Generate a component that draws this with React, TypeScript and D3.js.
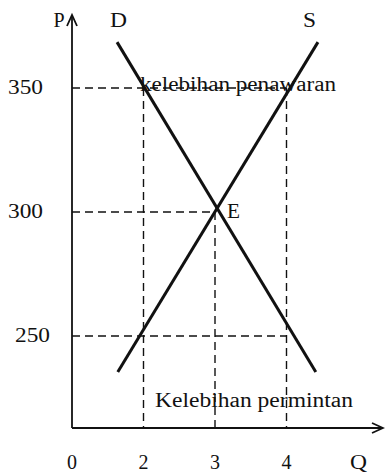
import React from "react";
import * as d3 from "d3";

const W = 385;
const H = 473;

const xTickLabels = ["0", "2", "3", "4", "Q"];
const priceTicks = [350, 300, 250];
const demandPoints = [
  { q: 1.63, p: 368.5 },
  { q: 4.41, p: 235.5 },
];
const supplyPoints = [
  { q: 1.64, p: 235.5 },
  { q: 4.44, p: 368.5 },
];
const equilibrium = { q: 3, p: 300 };
const guideH = [
  { p: 350, q: 4 },
  { p: 300, q: 3 },
  { p: 250, q: 4 },
];
const guideV = [
  { q: 2, p: 350 },
  { q: 3, p: 300 },
  { q: 4, p: 350 },
];
const surplusLabel = "kelebihan penawaran";
const shortageLabel = "Kelebihan permintan";

export default function App() {
  const xLabel = d3.scalePoint<string>().domain(xTickLabels).range([72, 358]);
  const x = d3
    .scaleLinear()
    .domain([2, 4])
    .range([xLabel("2") as number, xLabel("4") as number]);
  const y = d3.scaleLinear().domain([250, 350]).range([336, 88]);
  const x0 = xLabel("0") as number;
  const yAxisBottom = 428;
  const xAxisEnd = 383;
  const yAxisTop = 15;

  const line = d3
    .line<{ q: number; p: number }>()
    .x((d) => x(d.q))
    .y((d) => y(d.p));

  const font = "'Liberation Serif', 'Times New Roman', serif";
  const dash = "8,5";

  return (
    <div style={{ position: "fixed", left: 0, top: 0 }}>
      <svg width={W} height={H} style={{ display: "block", background: "#fff" }}>
        <g stroke="#111" strokeWidth={1.4} strokeDasharray={dash} fill="none">
          {guideH.map((g, i) => (
            <line key={"h" + i} x1={x0} x2={x(g.q)} y1={y(g.p)} y2={y(g.p)} />
          ))}
          {guideV.map((g, i) => (
            <line key={"v" + i} x1={x(g.q)} x2={x(g.q)} y1={y(g.p)} y2={yAxisBottom} />
          ))}
        </g>
        <g stroke="#111" strokeWidth={1.8} fill="none">
          <line x1={x0} x2={x0} y1={yAxisTop} y2={yAxisBottom} />
          <line x1={x0} x2={xAxisEnd} y1={yAxisBottom} y2={yAxisBottom} />
          <polyline points={`${x0 - 5},${yAxisTop + 11} ${x0},${yAxisTop} ${x0 + 5},${yAxisTop + 11}`} />
          <polyline points={`${xAxisEnd - 11},${yAxisBottom - 5} ${xAxisEnd},${yAxisBottom} ${xAxisEnd - 11},${yAxisBottom + 5}`} />
        </g>
        <path d={line(demandPoints) || ""} stroke="#111" strokeWidth={3} fill="none" />
        <path d={line(supplyPoints) || ""} stroke="#111" strokeWidth={3} fill="none" />
        <g fontFamily={font} fontSize={20} fill="#111">
          {priceTicks.map((p) => (
            <text key={p} x={p === 250 ? 50 : 43} y={y(p) + 6} textAnchor="end" textLength={35} lengthAdjust="spacingAndGlyphs">
              {p}
            </text>
          ))}
          {xTickLabels.map((t) => (
            <text
              key={t}
              x={t === "Q" ? 350 : (xLabel(t) as number)}
              y={469}
              textAnchor={t === "Q" ? "start" : "middle"}
              textLength={t === "Q" ? 17 : undefined}
              lengthAdjust="spacingAndGlyphs"
            >
              {t}
            </text>
          ))}
          <text x={59} y={27} textAnchor="middle">P</text>
          <text x={110} y={27} textLength={17} lengthAdjust="spacingAndGlyphs">D</text>
          <text x={303} y={27} textLength={13} lengthAdjust="spacingAndGlyphs">S</text>
          <text x={x(equilibrium.q) + 12} y={y(equilibrium.p) + 6} textLength={13} lengthAdjust="spacingAndGlyphs">E</text>
          <text x={140} y={91} textLength={196} lengthAdjust="spacingAndGlyphs">{surplusLabel}</text>
          <text x={155} y={407} textLength={198} lengthAdjust="spacingAndGlyphs">{shortageLabel}</text>
        </g>
      </svg>
    </div>
  );
}
